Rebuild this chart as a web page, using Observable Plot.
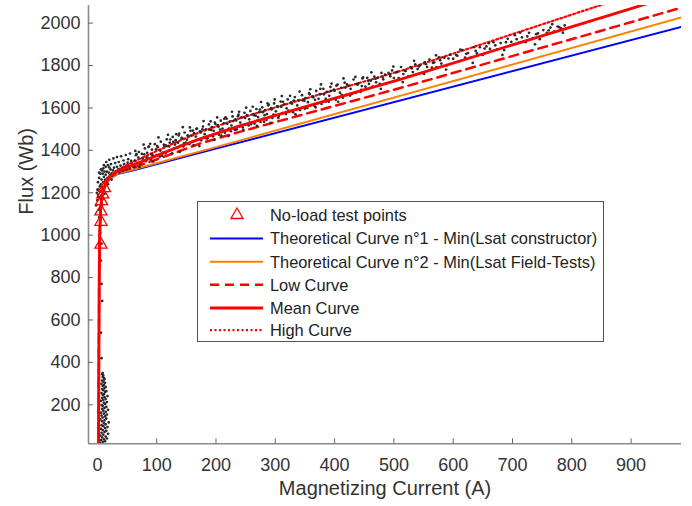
<!DOCTYPE html>
<html><head><meta charset="utf-8">
<script src="https://cdn.jsdelivr.net/npm/d3@7"></script>
<script src="https://cdn.jsdelivr.net/npm/@observablehq/plot@0.6"></script>
<style>
body{margin:0;background:#fff;}
#wrap{position:relative;width:692px;height:506px;font-family:"Liberation Sans",Arial,Helvetica,sans-serif;}
#legend{position:absolute;left:197px;top:201px;width:405px;height:139px;border:1px solid #555;background:#fff;}
</style></head><body><div id="wrap"><div id="chart"></div><div id="legend"></div></div>
<script>
const xDomain = [-15, 985];
const yDomain = [16, 2083];
const xTicks = [0, 100, 200, 300, 400, 500, 600, 700, 800, 900];
const yTicks = [200, 400, 600, 800, 1000, 1200, 1400, 1600, 1800, 2000];

const theory1 = [[2,0],[2.5,400],[3,800],[4,1000],[5,1100],[7,1165],[10,1205],[15,1240],[22,1268],[35,1290],[59,1305],[200,1408],[985,1982]];
const theory2 = [[2,0],[2.5,400],[3,800],[4,1000],[5,1100],[7,1165],[10,1205],[15,1240],[22,1268],[35,1292],[59,1308],[200,1415],[985,2027]];
const lowCurve = [[2,0],[2.5,400],[3,800],[4,1000],[5,1100],[7,1170],[10,1215],[15,1250],[22,1278],[35,1300],[60,1318],[100,1357],[140,1398],[174,1433],[240,1487],[309,1540],[512,1695],[832,1950],[985,2073]];
const meanCurve = [[2,0],[2.5,400],[3,800],[4,1000],[5,1100],[7,1170],[10,1215],[15,1250],[22,1280],[35,1303],[60,1330],[100,1375],[140,1420],[174,1455],[240,1515],[309,1572],[512,1736],[849,2025],[985,2141]];
const highCurve = [[2,0],[2.5,400],[3,800],[4,1000],[5,1100],[7,1170],[10,1215],[15,1252],[22,1283],[35,1310],[60,1345],[100,1397],[140,1447],[174,1487],[240,1551],[309,1610],[512,1775],[849,2085],[985,2207]];
const noLoadPoints = [[6,955],[6,1063],[6,1112],[7,1160],[9,1192],[12,1222]];

const measLow = [[4,20],[9,24],[13,28],[6,33],[11,37],[16,41],[8,46],[14,50],[5,55],[10,59],[18,63],[7,68],[12,72],[15,77],[9,81],[6,86],[13,90],[17,95],[10,99],[7,104],[14,108],[11,113],[19,117],[8,122],[12,126],[5,131],[15,135],[9,140],[13,145],[7,149],[16,154],[11,158],[6,163],[14,167],[10,172],[18,176],[8,181],[12,185],[15,190],[9,195],[7,199],[13,204],[11,209],[16,213],[6,218],[10,222],[14,227],[8,232],[12,236],[17,241],[9,246],[11,250],[7,255],[13,260],[15,264],[10,269],[8,274],[12,279],[14,284],[9,289],[11,294],[7,299],[13,304],[10,309],[8,314],[12,320],[11,326],[9,332],[10,338],[8,344],[9,350],
[7,420],[6,540],[8,690],[7,770],[6,880],[7,960],[5,1010]];
const measKnee = [[-2,1140],[0,1165],[1,1190],[3,1120],[4,1175],[2,1215],[5,1205],[6,1240],[8,1225],[7,1262],[10,1250],[11,1275],[9,1290],[13,1262],[14,1285],[16,1300],[17,1270],[19,1295],[21,1283],[22,1310],[24,1292],[26,1305],[28,1318],[29,1288],[31,1300],[33,1322],[35,1309],[37,1296],[39,1328],[41,1314],[43,1302],[45,1335],[47,1320],[49,1308],[51,1342],[53,1327],[55,1315],[57,1350],[59,1333],[61,1321],[3,1085],[4,1040],[12,1300],[15,1245],[20,1320],[25,1280],[0,1215],[6,1185],
[1,1250],[3,1270],[5,1290],[8,1305],[4,1230],[2,1180],[-1,1200],[10,1315],[14,1322],[18,1330],[23,1335],[30,1340],[36,1345],[44,1352],[52,1358],[7,1140],[9,1170],[12,1195],[18,1240],[24,1262],
[15,1345],[20,1355],[27,1362],[33,1368],[40,1372],[48,1378],[55,1385],[11,1330],[6,1310],[3,1295]];
const measMid = [[62,1320],[65,1377],[67,1341],[70,1392],[72,1335],[75,1383],[77,1352],[80,1409],[82,1349],[85,1365],[87,1418],[90,1357],[92,1403],[95,1372],[97,1429],[100,1378],[102,1415],[105,1370],[107,1441],[110,1389],[112,1427],[115,1385],[117,1452],[120,1398],[122,1436],[125,1401],[127,1463],[130,1410],[132,1448],[135,1412],[137,1470],[140,1421],[142,1459],[145,1418],[147,1484],[150,1433],[152,1470],[155,1429],[157,1492],[160,1440],[163,1481],[165,1445],[168,1503],[170,1450],[173,1490],[175,1447],[178,1512],[180,1461],[183,1499],[185,1458],[188,1522],[190,1470],[193,1509],[195,1466],[198,1531],[200,1478],[203,1519],[205,1474],[208,1540],[210,1486],[213,1527],[215,1483],[218,1549],[220,1495],[223,1536],[225,1490],[228,1560],[230,1503],[233,1546],[235,1499],[238,1568],[240,1512],[243,1555],[245,1508],[248,1577],[250,1521],[253,1563],[255,1517],[258,1586],[260,1530],[263,1571],[265,1526],[268,1595],[270,1540],[273,1580],[275,1534],[278,1603],[280,1549],[283,1590],[285,1543],[288,1612],[290,1556],[293,1599],[295,1553],[298,1621],[300,1566],[303,1607],[306,1562],[309,1630],[312,1575],[315,1617],[318,1571],[321,1640],[324,1584],[327,1626],[330,1580],[333,1651],[336,1594],[339,1636],[342,1590],[345,1660],[348,1603],[351,1646],[354,1600],[357,1670],[360,1613],[363,1655],[366,1609],[369,1680],[372,1622],[375,1665],[378,1619],[381,1690],[384,1632],[387,1676],[390,1629],[393,1699],[396,1642],[399,1686],[402,1638],[405,1710],[408,1650],[411,1695],[414,1648],[417,1719],[420,1660],[424,1705],[428,1665],[432,1734],[436,1672],[440,1716],[444,1676],[448,1744],
[63,1352],[69,1366],[76,1361],[84,1388],[91,1381],[99,1405],[106,1399],[113,1421],[121,1419],[128,1440],[136,1436],[143,1456],[151,1450],[158,1470],[166,1465],[174,1484],[181,1476],[189,1497],[196,1492],[204,1511],[211,1502],[219,1525],[226,1517],[234,1541],[241,1531],[249,1553],[256,1546],[264,1566],[271,1557],[279,1580],[286,1571],[294,1593],[301,1584],[310,1606],[319,1598],[328,1620],[337,1612],[346,1636],[355,1627],[364,1650],[373,1643],[382,1664],[391,1657],[400,1681],[409,1672],[418,1696],[427,1690],[437,1712],[446,1703],
[66,1382],[73,1342],[79,1381],[86,1416],[93,1378],[101,1420],[108,1380],[116,1422],[123,1451],[131,1427],[138,1479],[146,1433],[153,1470],[161,1493],[169,1450],[177,1499],[184,1456],[192,1496],[199,1524],[207,1498],[214,1549],[222,1502],[229,1538],[237,1561],[244,1518],[252,1566],[259,1523],[267,1563],[274,1592],[282,1566],[289,1616],[297,1569],[304,1606],[313,1629],[322,1587],[331,1635],[340,1594],[349,1634],[358,1664],[367,1638],[376,1690],[385,1643],[394,1681],[403,1705],[412,1662],[421,1711],[430,1669],[439,1710],[447,1739],
[64,1397],[71,1321],[78,1427],[83,1366],[89,1431],[94,1347],[103,1461],[109,1374],[114,1423],[119,1473],[126,1386],[133,1476],[139,1393],[144,1509],[149,1437],[156,1508],[162,1424],[167,1501],[172,1420],[179,1538],[186,1458],[191,1537],[197,1449],[202,1555],[209,1469],[216,1556],[221,1467],[227,1582],[232,1496],[239,1582],[246,1496],[251,1601],[257,1531],[262,1605],[269,1515],[276,1628],[281,1535],[287,1622],[292,1530],[299,1640],[305,1553],[311,1656],[317,1576],[325,1657],[334,1570],[341,1677],[350,1596],[359,1688],[368,1603],[377,1711],[386,1631],[395,1715],[406,1629],[415,1739],[426,1658],[435,1746],[445,1685]];
const measHigh = [[452,1700],[455,1742],[458,1713],[461,1729],[464,1700],[467,1748],[470,1721],[473,1742],[476,1714],[479,1765],[482,1735],[485,1757],[488,1716],[491,1765],[494,1749],[497,1777],[500,1741],[504,1768],[508,1741],[512,1793],[516,1760],[520,1774],[524,1749],[528,1793],[532,1769],[536,1805],[540,1783],[544,1801],[548,1765],[552,1815],[556,1793],[560,1828],[564,1790],[568,1815],[572,1792],[576,1839],[580,1809],[585,1837],[590,1801],[595,1851],[600,1832],[605,1849],[610,1820],[615,1873],[620,1837],[625,1859],[630,1839],[635,1886],[640,1857],[645,1886],[650,1850],[656,1890],[662,1878],[668,1910],[674,1876],[680,1906],[686,1873],[692,1926],[698,1911],[704,1943],[710,1907],[716,1933],[722,1910],[728,1954],[734,1929],[740,1948],[746,1924],[752,1967],[758,1954],[764,1979],[770,1960],[776,1984],[782,1975],[788,1989],
[457,1728],[469,1737],[481,1746],[493,1758],[506,1770],[518,1776],[530,1786],[542,1795],[554,1806],[566,1812],[578,1825],[592,1833],[607,1846],[622,1855],[638,1869],[653,1880],[671,1895],[689,1910],[707,1924],[725,1937],[743,1952],[761,1966],[779,1980],
[462,1768],[478,1690],[499,1795],[515,1722],[534,1822],[551,1760],[571,1848],[588,1781],[612,1875],[633,1812],[660,1905],[683,1850],[713,1955],[738,1900],[767,1995],[785,1955]];

const measured = [...measLow, ...measKnee, ...measMid, ...measHigh];
const X = d => d[0], Y = d => d[1];
const FONT = '"Liberation Sans", Arial, Helvetica, sans-serif';
const W = 692, H = 506, ML = 88, MR = 11, MT = 5, MB = 62.7;
const fmt = d3.format("d");

const chart = Plot.plot({
  width: W, height: H,
  marginLeft: ML, marginRight: MR, marginTop: MT, marginBottom: MB,
  x: {domain: xDomain, label: null},
  y: {domain: yDomain, label: null},
  style: {fontFamily: FONT, fontSize: "18px", color: "#333", background: "#fff"},
  marks: [
    Plot.line(theory1, {x: X, y: Y, stroke: "#0000ff", strokeWidth: 2, clip: true}),
    Plot.line(theory2, {x: X, y: Y, stroke: "#ff8000", strokeWidth: 2, clip: true}),
    Plot.line(lowCurve, {x: X, y: Y, stroke: "#ff0000", strokeWidth: 2.5, strokeDasharray: "9,6", clip: true}),
    Plot.line(highCurve, {x: X, y: Y, stroke: "#ff0000", strokeWidth: 2.2, strokeDasharray: "2,2.5", clip: true}),
    Plot.dot(measured, {x: X, y: Y, r: 1.35, fill: "#2a2a2a", stroke: null}),
    Plot.line(meanCurve, {x: X, y: Y, stroke: "#ff0000", strokeWidth: 2.8, clip: true}),
    Plot.dot(noLoadPoints, {x: X, y: Y, symbol: "triangle", r: 4.5, stroke: "#ff0000", strokeWidth: 1.3, fill: "none"}),
    Plot.ruleY([yDomain[0]], {stroke: "#8a8a8a", strokeWidth: 1.6}),
    Plot.ruleX([xDomain[0]], {stroke: "#8a8a8a", strokeWidth: 1.6}),
    Plot.tickX(xTicks, {x: d => d, insetTop: (H - MT - MB) - 5, stroke: "#666"}),
    Plot.tickY(yTicks, {y: d => d, insetRight: (W - ML - MR) - 5, stroke: "#666"}),
    Plot.axisX(xTicks, {tickSize: 0, tickPadding: 14, fontSize: 18, fill: "#333", label: null, tickFormat: fmt}),
    Plot.axisY(yTicks, {tickSize: 0, tickPadding: 8, fontSize: 18, fill: "#333", label: null, tickFormat: fmt}),
    Plot.text(["Magnetizing Current (A)"], {frameAnchor: "bottom", dy: 51, fontSize: 20, fill: "#333"}),
    Plot.text(["Flux (Wb)"], {frameAnchor: "left", dx: -62, dy: -10, rotate: -90, fontSize: 20, fill: "#333"})
  ]
});
document.getElementById("chart").appendChild(chart);

// legend
const legendItems = [
  {label: "No-load test points", kind: "tri"},
  {label: "Theoretical Curve n°1 - Min(Lsat constructor)", kind: "line", color: "#0000ff", w: 2, dash: null},
  {label: "Theoretical Curve n°2 - Min(Lsat Field-Tests)", kind: "line", color: "#ff8000", w: 2, dash: null},
  {label: "Low Curve", kind: "line", color: "#ff0000", w: 2.5, dash: "9,6"},
  {label: "Mean Curve", kind: "line", color: "#ff0000", w: 2.8, dash: null},
  {label: "High Curve", kind: "line", color: "#ff0000", w: 2.2, dash: "2,2.5"}
];
const rowY = [13, 36.5, 59.8, 82.8, 106, 128.2];
const lsvg = d3.select("#legend").append("svg").attr("width", 405).attr("height", 139)
  .style("font-family", FONT).style("font-size", "16.4px");
legendItems.forEach((it, i) => {
  const y = rowY[i];
  if (it.kind === "tri") {
    lsvg.append("path").attr("d", d3.symbol(d3.symbolTriangle, Math.PI * 4.5 * 4.5)())
      .attr("transform", `translate(39,${y})`).attr("fill", "none").attr("stroke", "#ff0000").attr("stroke-width", 1.3);
  } else {
    lsvg.append("line").attr("x1", 12).attr("x2", 65).attr("y1", y).attr("y2", y)
      .attr("stroke", it.color).attr("stroke-width", it.w).attr("stroke-dasharray", it.dash);
  }
  lsvg.append("text").attr("x", 72).attr("y", y).attr("dy", "0.35em").attr("fill", "#222").text(it.label);
});
</script></body></html>
